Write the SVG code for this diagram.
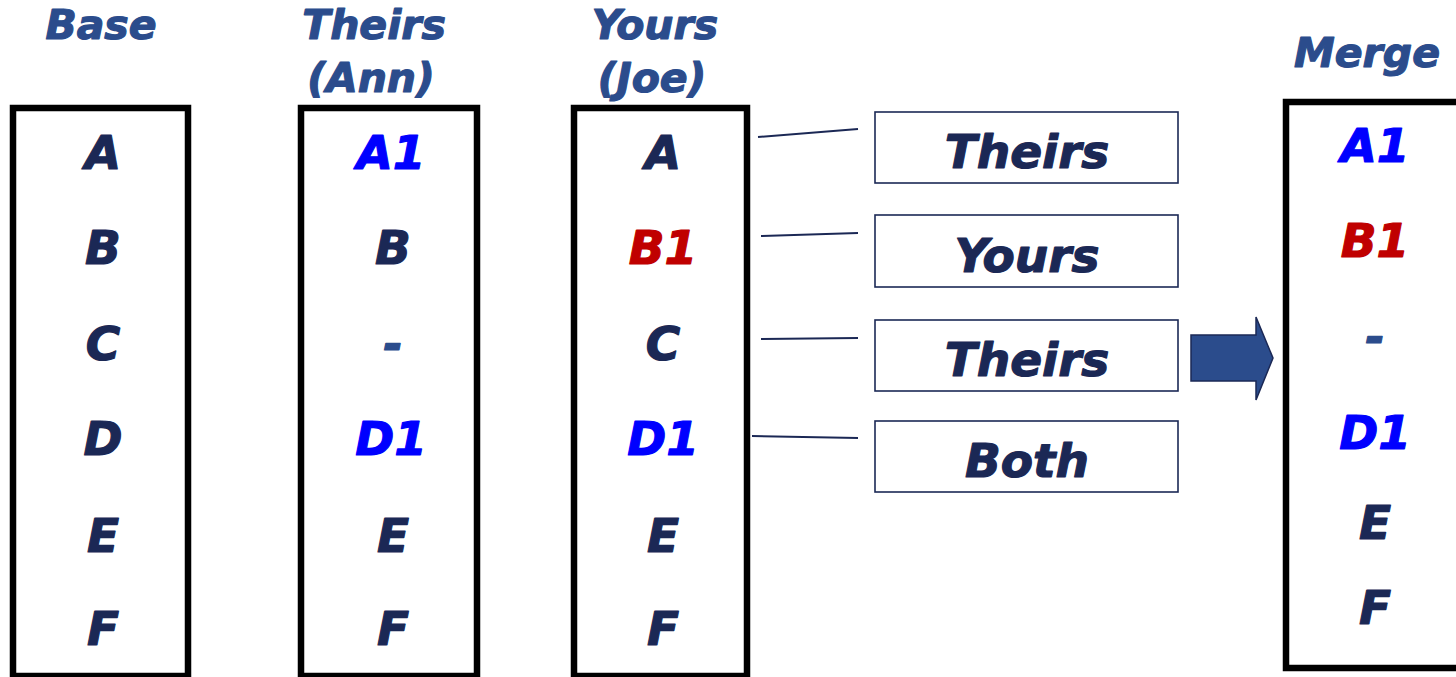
<svg xmlns="http://www.w3.org/2000/svg" width="1456" height="677" viewBox="0 0 1456 677">
<style>
text{font-family:"DejaVu Sans","Liberation Sans",sans-serif;font-weight:bold;font-style:italic;text-anchor:middle;stroke-width:1.2;stroke-linejoin:round}
.t{font-size:41px;fill:#2B4C8C;stroke:#2B4C8C}
.i{font-size:47px;fill:#1B2855;stroke:#1B2855}
.b{fill:#0000FF;stroke:#0000FF}
.r{fill:#C00000;stroke:#C00000}
.d{fill:#2B4C8C;stroke:#2B4C8C}
.col{fill:#fff;stroke:#000;stroke-width:6.5}
.lab{fill:#fff;stroke:#1B2855;stroke-width:1.6}
.l{font-size:47px;fill:#1B2855;stroke:#1B2855}
</style>
<rect width="1456" height="677" fill="#fff"/>
<g id="base">
<text class="t" x="101" y="39">Base</text>
<rect class="col" x="13" y="108" width="175" height="568"/>
<text class="i" x="103" y="169">A</text>
<text class="i" x="103" y="264">B</text>
<text class="i" x="103" y="360">C</text>
<text class="i" x="103" y="455">D</text>
<text class="i" x="103" y="552">E</text>
<text class="i" x="103" y="645">F</text>
</g>
<g id="theirs">
<text class="t" x="374" y="39">Theirs</text>
<text class="t" x="371" y="92">(Ann)</text>
<rect class="col" x="301" y="108" width="176" height="568"/>
<text class="i b" x="391" y="169">A1</text>
<text class="i" x="393" y="264">B</text>
<text class="i d" x="393" y="360">-</text>
<text class="i b" x="391" y="455">D1</text>
<text class="i" x="393" y="552">E</text>
<text class="i" x="393" y="645">F</text>
</g>
<g id="yours">
<text class="t" x="655" y="39">Yours</text>
<text class="t" x="652" y="92">(Joe)</text>
<rect class="col" x="574" y="108" width="173" height="568"/>
<text class="i" x="663" y="169">A</text>
<text class="i r" x="663" y="264">B1</text>
<text class="i" x="663" y="360">C</text>
<text class="i b" x="663" y="455">D1</text>
<text class="i" x="663" y="552">E</text>
<text class="i" x="663" y="645">F</text>
</g>
<g id="connectors" stroke="#1B2855" stroke-width="2" fill="none">
<line x1="758" y1="137" x2="858" y2="129"/>
<line x1="761" y1="236" x2="858" y2="233"/>
<line x1="761" y1="339" x2="858" y2="338"/>
<line x1="752" y1="436" x2="858" y2="438"/>
</g>
<g id="label1">
<rect class="lab" x="875" y="112" width="303" height="71"/>
<text class="l" x="1027" y="168">Theirs</text>
</g>
<g id="label2">
<rect class="lab" x="875" y="215" width="303" height="72"/>
<text class="l" x="1027" y="272">Yours</text>
</g>
<g id="label3">
<rect class="lab" x="875" y="320" width="303" height="71"/>
<text class="l" x="1027" y="376">Theirs</text>
</g>
<g id="label4">
<rect class="lab" x="875" y="421" width="303" height="71"/>
<text class="l" x="1027" y="477">Both</text>
</g>
<g id="arrow">
<polygon points="1191,335 1256,335 1256,317 1273,358 1256,400 1256,381 1191,381" fill="#2B4C8C" stroke="#1B2855" stroke-width="1.5"/>
</g>
<g id="merge">
<text class="t" x="1367" y="67">Merge</text>
<rect class="col" x="1286" y="102" width="180" height="566"/>
<text class="i b" x="1375" y="162">A1</text>
<text class="i r" x="1375" y="257">B1</text>
<text class="i d" x="1375" y="353">-</text>
<text class="i b" x="1375" y="449">D1</text>
<text class="i" x="1375" y="539">E</text>
<text class="i" x="1375" y="624">F</text>
</g>
</svg>
